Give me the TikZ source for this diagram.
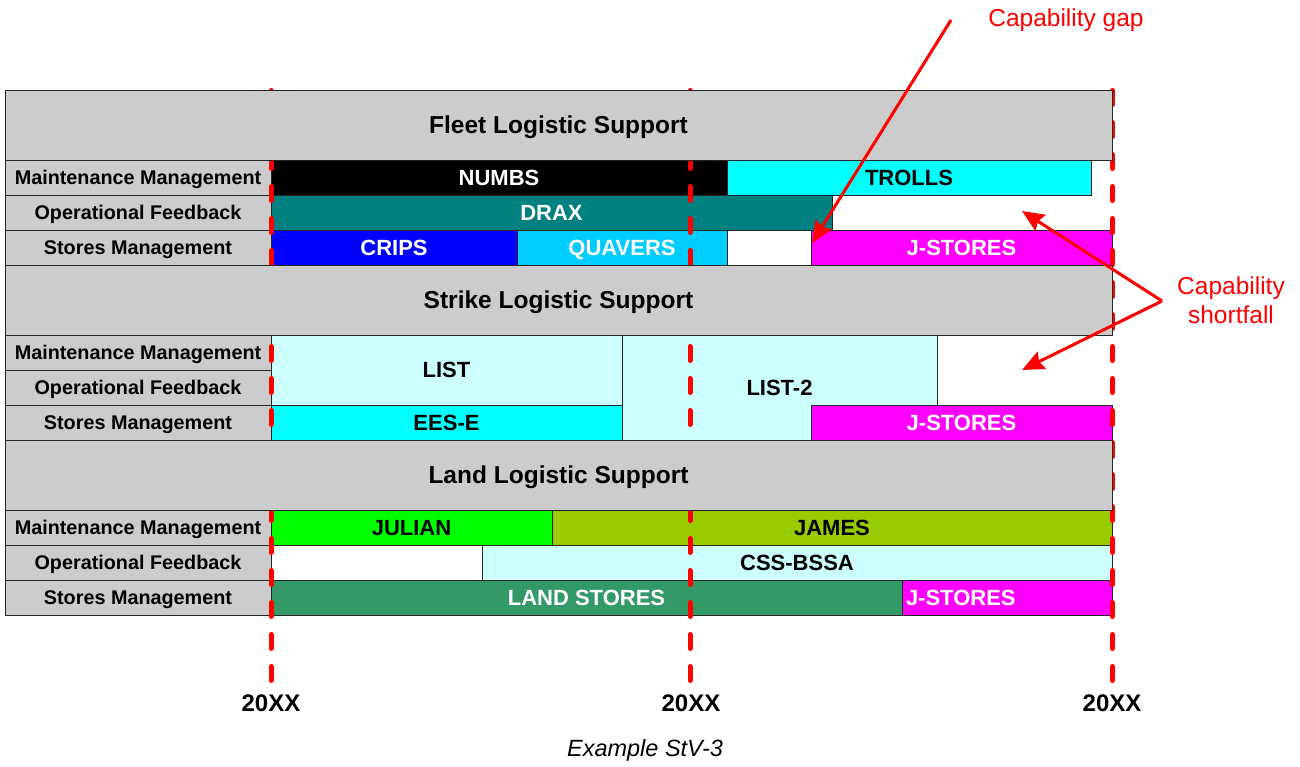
\documentclass[tikz,border=0pt]{standalone}
\usepackage{fontspec}
\setmainfont{Liberation Sans}
\usetikzlibrary{arrows.meta}
\definecolor{hdrgray}{HTML}{CCCCCC}
\definecolor{cyanc}{HTML}{00FFFF}
\definecolor{tealc}{HTML}{008080}
\definecolor{bluec}{HTML}{0000FF}
\definecolor{skyc}{HTML}{00CCFF}
\definecolor{magc}{HTML}{FF00FF}
\definecolor{palec}{HTML}{CCFFFF}
\definecolor{limec}{HTML}{00FF00}
\definecolor{olivec}{HTML}{99CC00}
\definecolor{seac}{HTML}{339966}
\definecolor{redc}{HTML}{FF0000}
\tikzset{
  cellbox/.style={draw=black!85, line width=0.9pt, inner sep=0pt, outer sep=0pt, text depth=0pt,
    font=\bfseries\fontsize{22}{24}\selectfont},
  lbl/.style={fill=hdrgray, font=\bfseries\fontsize{19.8}{22}\selectfont},
  hdr/.style={fill=hdrgray, font=\bfseries\fontsize{24.5}{27}\selectfont},
  yr/.style={font=\bfseries\fontsize{24}{26}\selectfont, inner sep=0pt},
  redtxt/.style={text=redc, font=\fontsize{24.5}{29}\selectfont, align=center, inner sep=0pt},
  captxt/.style={font=\itshape\fontsize{23.5}{26}\selectfont, inner sep=0pt},
  timeline/.style={draw=redc, line width=5pt, line cap=round, dash pattern=on 14pt off 18pt},
  callout/.style={draw=redc, line width=3pt, -{Stealth[length=22pt,width=19pt,inset=3pt]}},
}
\newcommand\mycell[7]{\node[cellbox,#6,minimum width={(#4-#2)*1pt},minimum height={(#5-#3)*1pt}] (#1) at ({(#2+#4)/2},{(#3+#5)/2}) {#7};}
\begin{document}
\begin{tikzpicture}[x=1pt,y=-1pt]
\useasboundingbox (0,0) rectangle (1300,767);
% ---- Fleet rows
\mycell{fl1}{5}{160}{271}{195}{lbl}{Maintenance Management}
\mycell{fl2}{5}{195}{271}{230}{lbl}{Operational Feedback}
\mycell{fl3}{5}{230}{271}{265}{lbl}{Stores Management}
\mycell{numbs}{271}{160}{727}{195}{fill=black,text=white}{NUMBS}
\mycell{trolls}{727}{160}{1091}{195}{fill=cyanc}{TROLLS}
\mycell{drax}{271}{195}{832}{230}{fill=tealc,text=white}{DRAX}
\mycell{crips}{271}{230}{517}{265}{fill=bluec,text=white}{CRIPS}
\mycell{quavers}{517}{230}{727}{265}{fill=skyc,text=white}{QUAVERS}
\mycell{fgap}{727}{230}{811}{265}{fill=white}{}
\mycell{fjs}{811}{230}{1112}{265}{fill=magc,text=white}{J-STORES}
% ---- Strike rows
\mycell{sl1}{5}{335}{271}{370}{lbl}{Maintenance Management}
\mycell{sl2}{5}{370}{271}{405}{lbl}{Operational Feedback}
\mycell{sl3}{5}{405}{271}{440}{lbl}{Stores Management}
\mycell{list}{271}{335}{622}{405}{fill=palec}{LIST}
\mycell{listtwo}{622}{335}{937}{440}{fill=palec}{LIST-2}
\mycell{eese}{271}{405}{622}{440}{fill=cyanc}{EES-E}
\mycell{sjs}{811}{405}{1112}{440}{fill=magc,text=white}{J-STORES}
% ---- Land rows
\mycell{ll1}{5}{510}{271}{545}{lbl}{Maintenance Management}
\mycell{ll2}{5}{545}{271}{580}{lbl}{Operational Feedback}
\mycell{ll3}{5}{580}{271}{615}{lbl}{Stores Management}
\mycell{julian}{271}{510}{552}{545}{fill=limec}{JULIAN}
\mycell{james}{552}{510}{1112}{545}{fill=olivec}{JAMES}
\mycell{lgap}{271}{545}{482}{580}{fill=white}{}
\mycell{cssbssa}{482}{545}{1112}{580}{fill=palec}{CSS-BSSA}
\mycell{landstores}{271}{580}{902}{615}{fill=seac,text=white}{LAND STORES}
\mycell{ljs}{902}{580}{1112}{615}{fill=magc,text=white,text width=202pt,align=left}{J-STORES}
% ---- time lines
\coordinate (tAtop) at (271,90.5);  \coordinate (tAbot) at (271,680.5);
\coordinate (tBtop) at (690,90.5);  \coordinate (tBbot) at (690,680.5);
\coordinate (tCtop) at (1112.5,90.5); \coordinate (tCbot) at (1112.5,680.5);
\draw[timeline] (tAtop) -- (tAbot);
\draw[timeline] (tBtop) -- (tBbot);
\draw[timeline] (tCtop) -- (tCbot);
% ---- headers
\mycell{fhdr}{5}{90}{1112}{160}{hdr}{Fleet Logistic Support}
\mycell{shdr}{5}{265}{1112}{335}{hdr}{Strike Logistic Support}
\mycell{lhdr}{5}{440}{1112}{510}{hdr}{Land Logistic Support}
% ---- years and caption
\node[yr] (yA) at (271,703) {20XX};
\node[yr] (yB) at (691,703) {20XX};
\node[yr] (yC) at (1112,703) {20XX};
\node[captxt] (cap) at (645,750) {Example StV-3};
% ---- callouts
\node[redtxt] (gaptxt) at (1066,20) {Capability gap};
\node[redtxt] (shorttxt) at (1231,300) {Capability\\shortfall};
\coordinate (gapsrc) at (951,20);
\coordinate (gaptip) at (812,243);
\coordinate (shsrc) at (1162,301);
\coordinate (shtipA) at (1022,211);
\coordinate (shtipB) at (1022,370);
\draw[callout] (gapsrc) -- (gaptip);
\draw[callout] (shsrc) -- (shtipA);
\draw[callout] (shsrc) -- (shtipB);
\end{tikzpicture}
\end{document}
